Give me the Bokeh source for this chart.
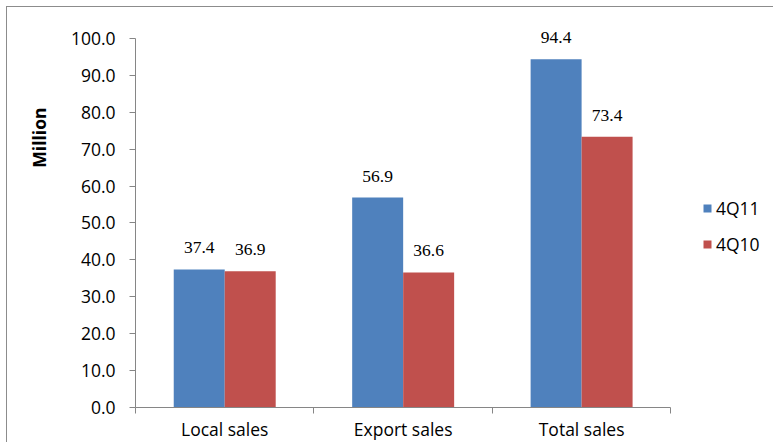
from bokeh.plotting import figure
from bokeh.models import (ColumnDataSource, Range1d, FixedTicker, NumeralTickFormatter,
                          LabelSet, Legend, LegendItem, Title)
from bokeh.embed import file_html
from bokeh.resources import INLINE

categories = ["Local sales", "Export sales", "Total sales"]
series_names = ["4Q11", "4Q10"]
values_4q11 = [37.4, 56.9, 94.4]
values_4q10 = [36.9, 36.6, 73.4]
y_ticks = [0, 10, 20, 30, 40, 50, 60, 70, 80, 90, 100]

BLUE = "#4F81BD"
RED = "#C0504D"
AXIS = "#868686"
FONT = "Open Sans"
FS = "17.5px"

bar_w = 1 / 3.5
idx = list(range(len(categories)))
centers = [i + 0.5 for i in idx]
bounds = [float(i) for i in range(len(categories) + 1)]

src_a = ColumnDataSource(dict(x=[c - bar_w / 2 for c in centers], top=values_4q11,
                              lab=[f"{v:.1f}" for v in values_4q11]))
src_b = ColumnDataSource(dict(x=[c + bar_w / 2 for c in centers], top=values_4q10,
                              lab=[f"{v:.1f}" for v in values_4q10]))

p = figure(width=767, height=436, output_backend="svg", toolbar_location=None,
           x_range=Range1d(0, 3.581), y_range=Range1d(0, 108.4),
           min_border_left=126, min_border_right=0, min_border_top=0, min_border_bottom=36)
p.styles = {"margin-left": "6px", "margin-top": "6px",
            "border-left": "1px solid #8C8C8C", "border-top": "1px solid #8C8C8C"}
p.outline_line_color = None
p.xgrid.visible = False
p.ygrid.visible = False
p.background_fill_color = "white"
p.border_fill_color = "white"

r1 = p.vbar(x="x", top="top", width=bar_w, source=src_a, fill_color=BLUE, line_color=None)
r2 = p.vbar(x="x", top="top", width=bar_w, source=src_b, fill_color=RED, line_color=None)

# y axis
ya = p.yaxis[0]
ya.bounds = (0, 100)
ya.ticker = FixedTicker(ticks=y_ticks, minor_ticks=[])
ya.formatter = NumeralTickFormatter(format="0.0")
ya.axis_line_color = AXIS
ya.major_tick_line_color = AXIS
ya.major_tick_out = 6
ya.major_tick_in = 0
ya.minor_tick_line_color = None
ya.major_label_text_font = FONT
ya.major_label_text_font_size = FS
ya.major_label_text_color = "black"
ya.major_label_standoff = 14

# x axis: labels at category centres, ticks at category boundaries
xa = p.xaxis[0]
xa.bounds = (0, 3)
xa.ticker = FixedTicker(ticks=centers, minor_ticks=bounds)
xa.major_label_overrides = {c: cat for c, cat in zip(centers, categories)}
xa.axis_line_color = AXIS
xa.major_tick_line_color = None
xa.major_tick_out = 0
xa.major_tick_in = 0
xa.minor_tick_line_color = AXIS
xa.minor_tick_out = 6
xa.minor_tick_in = 0
xa.major_label_text_font = FONT
xa.major_label_text_font_size = FS
xa.major_label_text_color = "black"
xa.major_label_standoff = 3

# value labels
for s in (src_a, src_b):
    p.add_layout(LabelSet(x="x", y="top", text="lab", source=s, text_align="center",
                          text_baseline="alphabetic", y_offset=16, text_font=FONT,
                          text_font_size=FS, text_color="black"))

# axis title
p.add_layout(Title(text="Million", align="right", vertical_align="bottom", offset=100,
                   standoff=34, text_font=FONT, text_font_size=FS,
                   text_font_style="bold", text_color="black"), "left")

legend = Legend(items=[LegendItem(label=series_names[0], renderers=[r1]),
                       LegendItem(label=series_names[1], renderers=[r2])],
                location=(567, 151), glyph_width=10, glyph_height=10, label_standoff=4,
                spacing=12, padding=10, margin=0, border_line_color=None,
                background_fill_alpha=0, label_text_font=FONT, label_text_font_size=FS,
                label_text_color="black")
p.add_layout(legend)

open("out.html", "w").write(file_html(p, INLINE))
